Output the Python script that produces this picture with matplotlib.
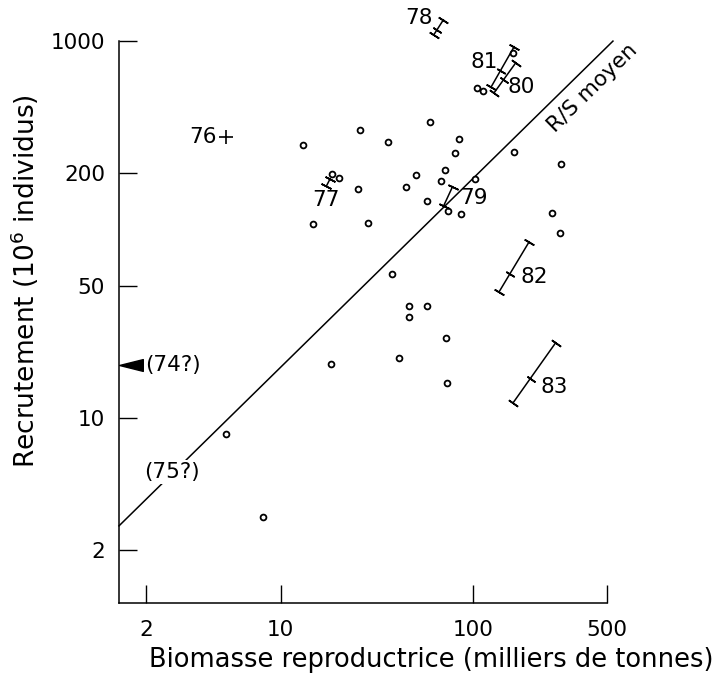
import numpy as np
import matplotlib
matplotlib.use("Agg")
import matplotlib.pyplot as plt
from matplotlib.path import Path

# ---------------- data ----------------
biomasse = [13, 26, 36, 60, 85, 81, 164, 287, 18.6, 20.1, 25.3, 50.5, 44.8, 72,
            68.6, 103, 58, 74.6, 86.4, 14.7, 28.6, 260, 284, 38, 46.8, 58, 46.6,
            72.2, 41.5, 73.7, 18.2, 5.2, 8.1, 105, 113, 162]
recrutement = [280, 337, 291, 373, 303, 254, 259, 223, 197, 187, 164, 195, 169, 206,
               180, 185, 141, 126, 121, 107, 108, 123, 96, 58, 39.3, 39.4, 34.2,
               26.5, 20.9, 15.3, 19.3, 8.2, 3.0, 565, 543, 867]

bar_years = ['77', '78', '79', '80', '81', '82', '83']
bar_s_lo = [17.3, 62.6, 70.5, 129.3, 124.3, 137.3, 162.3]
bar_r_lo = [170, 1076, 133.3, 531.7, 567.5, 46.8, 12.05]
bar_s_mid = [17.7, 64.9, 73.5, 145.7, 140.1, 156, 201.4]
bar_r_mid = [178, 1142, 143.4, 621, 696, 58.1, 16.2]
bar_has_mid = [False, True, False, True, True, True, True]
bar_s_hi = [18.1, 70.3, 78.5, 167.6, 164.3, 196.7, 270.4]
bar_r_hi = [186, 1294, 168.7, 767, 933, 86.1, 25.1]
label_s = [17.3, 52.7, 101.8, 178, 114.7, 208.7, 265]
label_r = [143, 1319, 146.4, 567, 776, 56.2, 14.55]

point76 = (5.18, 311)
label76 = (3.95, 311)
r74 = 19.1
label75 = (2.73, 5.19)

rs_ratio = 1.86
rs_s_range = [1.44, 537]

x_ticks = [2, 10, 100, 500]
y_ticks = [2, 10, 50, 200, 1000]
x_lim = (1.44, 500)
y_lim = (1.044, 1000)

# ---------------- figure ----------------
W, H = 713, 681
fig = plt.figure(figsize=(W / 100, H / 100), dpi=100)
ax = fig.add_axes([119 / W, 78 / H, (607 - 119) / W, (603 - 41) / H])
ax.set_xscale('log')
ax.set_yscale('log')
ax.set_xlim(*x_lim)
ax.set_ylim(*y_lim)
for s in ['top', 'right']:
    ax.spines[s].set_visible(False)
for s in ['left', 'bottom']:
    ax.spines[s].set_linewidth(1.1)
ax.xaxis.set_minor_locator(matplotlib.ticker.NullLocator())
ax.yaxis.set_minor_locator(matplotlib.ticker.NullLocator())
ax.set_xticks(x_ticks)
ax.set_xticklabels([str(v) for v in x_ticks])
ax.set_yticks(y_ticks)
ax.set_yticklabels([str(v) for v in y_ticks])
ax.tick_params(direction='in', length=13, width=1.0, labelsize=15.5, pad=10)
ax.tick_params(axis='x', pad=12)

FS = 15.5
col = 'black'

# R/S line
s_line = np.array(rs_s_range)
ax.plot(s_line, rs_ratio * s_line, color=col, lw=1.1, clip_on=False, zorder=2)

# points
ax.plot(biomasse, recrutement, 'o', ms=4.2, mfc='white', mec=col, mew=1.3,
        zorder=3, clip_on=False)

# error bars
fig.canvas.draw()
for i in range(len(bar_years)):
    xs = [bar_s_lo[i], bar_s_hi[i]]
    ys = [bar_r_lo[i], bar_r_hi[i]]
    ax.plot(xs, ys, color=col, lw=1.1, clip_on=False, zorder=4)
    p0 = ax.transData.transform((bar_s_lo[i], bar_r_lo[i]))
    p1 = ax.transData.transform((bar_s_hi[i], bar_r_hi[i]))
    ang = np.degrees(np.arctan2(p1[1] - p0[1], p1[0] - p0[0]))
    ax.plot(xs, ys, linestyle='none', marker=(2, 2, ang), ms=8, mew=1.2,
            color=col, clip_on=False, zorder=4)
    if bar_has_mid[i]:
        ax.plot([bar_s_mid[i]], [bar_r_mid[i]], linestyle='none',
                marker=(2, 2, ang), ms=7, mew=1.2, color=col, clip_on=False,
                zorder=4)
    ax.text(label_s[i], label_r[i], bar_years[i], fontsize=FS, ha='center',
            va='center', clip_on=False, zorder=5)

# 76 +
ax.plot([point76[0]], [point76[1]], marker='+', ms=10, mew=1.2, color=col)
ax.text(label76[0], label76[1], '76', fontsize=FS, ha='center', va='center')

# 74? arrow marker on the axis
tri = Path([(-1, 0), (1, 0.5), (1, -0.5), (-1, 0)],
           [Path.MOVETO, Path.LINETO, Path.LINETO, Path.CLOSEPOLY])
ax.plot([1.67], [r74], marker=tri, ms=17, color=col, mec=col, clip_on=False,
        zorder=5)
ax.text(1.97, r74, '(74?)', fontsize=FS, ha='left', va='center')

# 75?
ax.text(label75[0], label75[1], '(75?)', fontsize=FS, ha='center', va='center',
        bbox=dict(facecolor='white', edgecolor='none', pad=1.5), zorder=6)

# R/S moyen label
p0 = ax.transData.transform((s_line[0], rs_ratio * s_line[0]))
p1 = ax.transData.transform((s_line[1], rs_ratio * s_line[1]))
ang = np.degrees(np.arctan2(p1[1] - p0[1], p1[0] - p0[0]))
ax.text(423, 563, 'R/S moyen', fontsize=FS, rotation=ang, ha='center',
        va='center', rotation_mode='anchor', clip_on=False)

# axis titles
fig.text(431 / W, 1 - 660 / H, 'Biomasse reproductrice (milliers de tonnes)',
         fontsize=18.5, ha='center', va='center')
fig.text(25 / W, 1 - 281 / H, 'Recrutement (10$^6$ individus)', fontsize=19,
         ha='center', va='center', rotation=90)

fig.savefig('out.png', dpi=100)
